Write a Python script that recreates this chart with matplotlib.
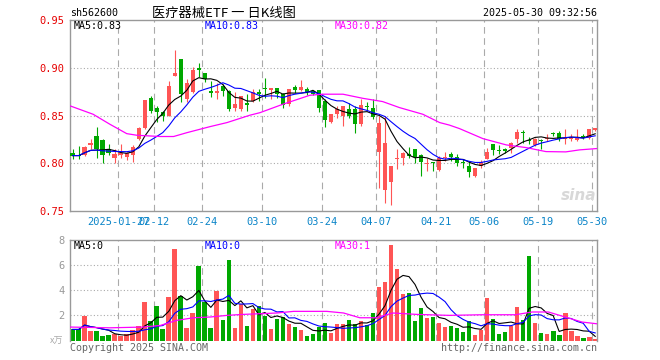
import matplotlib
matplotlib.use('Agg')
import matplotlib.pyplot as plt
import numpy as np
import pandas as pd

# 日K数据
opens = [0.811, 0.809, 0.809, 0.819, 0.829, 0.824, 0.815, 0.805, 0.809, 0.807,
         0.809, 0.825, 0.837, 0.868, 0.858, 0.854, 0.850, 0.891, 0.909, 0.867,
         0.875, 0.8995, 0.894, 0.876, 0.874, 0.881, 0.876, 0.858, 0.857, 0.8635,
         0.865, 0.875, 0.8792, 0.8768, 0.8792, 0.8723, 0.8618, 0.8803, 0.8768, 0.8775,
         0.8757, 0.8764, 0.8653, 0.8433, 0.8520, 0.8496, 0.8565, 0.8565, 0.8408, 0.8600,
         0.8579, 0.8119, 0.7721, 0.7804, 0.8045, 0.8056, 0.8101, 0.8154, 0.8087, 0.7993,
         0.8017, 0.7930, 0.8059, 0.8094, 0.8070, 0.8014, 0.7972, 0.7868, 0.7972, 0.8042,
         0.8199, 0.8140, 0.8154, 0.8157, 0.8251, 0.8332, 0.8244, 0.8192, 0.8244, 0.8258,
         0.8314, 0.8314, 0.8251, 0.8258, 0.8244, 0.8286, 0.8269, 0.8349]
highs = [0.815, 0.818, 0.818, 0.825, 0.838, 0.825, 0.820, 0.815, 0.820, 0.812,
         0.819, 0.838, 0.866, 0.870, 0.860, 0.855, 0.886, 0.919, 0.909, 0.888,
         0.901, 0.905, 0.895, 0.886, 0.884, 0.883, 0.877, 0.875, 0.870, 0.873,
         0.878, 0.8775, 0.8890, 0.8792, 0.8792, 0.8740, 0.8782, 0.8817, 0.8869, 0.8803,
         0.8770, 0.8764, 0.8670, 0.8520, 0.8600, 0.8600, 0.8635, 0.8600, 0.8677, 0.8642,
         0.8670, 0.8490, 0.8496, 0.7972, 0.8154, 0.8119, 0.8175, 0.8154, 0.8094, 0.8059,
         0.8017, 0.8077, 0.8115, 0.8122, 0.8094, 0.8042, 0.8024, 0.7955, 0.8031, 0.8164,
         0.8199, 0.8192, 0.8164, 0.8223, 0.8356, 0.8349, 0.8279, 0.8269, 0.8258, 0.8311,
         0.8332, 0.8339, 0.8356, 0.8304, 0.8356, 0.8311, 0.8363, 0.8373]
lows = [0.804, 0.804, 0.808, 0.815, 0.806, 0.800, 0.809, 0.800, 0.805, 0.803,
        0.801, 0.824, 0.836, 0.853, 0.843, 0.844, 0.849, 0.891, 0.864, 0.864,
        0.874, 0.890, 0.885, 0.869, 0.867, 0.870, 0.855, 0.855, 0.855, 0.855,
        0.864, 0.865, 0.8688, 0.8677, 0.8688, 0.8583, 0.8600, 0.8740, 0.8754, 0.8712,
        0.8710, 0.8538, 0.8380, 0.8420, 0.8478, 0.8391, 0.8478, 0.8314, 0.8391, 0.8548,
        0.8461, 0.7745, 0.7581, 0.7564, 0.7937, 0.7979, 0.8052, 0.8000, 0.7867, 0.7920,
        0.7920, 0.7920, 0.8024, 0.8024, 0.7972, 0.7955, 0.7861, 0.7861, 0.7955, 0.8042,
        0.8087, 0.8094, 0.8105, 0.8112, 0.8216, 0.8209, 0.8206, 0.8181, 0.8147, 0.8234,
        0.8286, 0.8234, 0.8199, 0.8234, 0.8234, 0.8251, 0.8251, 0.8339]
closes = [0.808, 0.808, 0.817, 0.821, 0.815, 0.809, 0.811, 0.810, 0.811, 0.811,
          0.817, 0.837, 0.866, 0.855, 0.854, 0.849, 0.881, 0.895, 0.873, 0.884,
          0.898, 0.898, 0.888, 0.874, 0.876, 0.876, 0.857, 0.862, 0.870, 0.861,
          0.875, 0.8725, 0.8775, 0.8792, 0.8723, 0.8607, 0.8782, 0.8768, 0.8796, 0.8750,
          0.8723, 0.8583, 0.8450, 0.8513, 0.8565, 0.8600, 0.8496, 0.8408, 0.8607, 0.8590,
          0.8485, 0.8419, 0.8209, 0.7972, 0.8052, 0.8112, 0.8077, 0.8070, 0.8014, 0.8007,
          0.8000, 0.8056, 0.8070, 0.8070, 0.8007, 0.8000, 0.7913, 0.7948, 0.8014, 0.8122,
          0.8140, 0.8129, 0.8129, 0.8209, 0.8332, 0.8321, 0.8234, 0.8258, 0.8237, 0.8269,
          0.8304, 0.8258, 0.8262, 0.8269, 0.8269, 0.8269, 0.8363, 0.8373]
# 成交量 (万)
volumes = [0.88, 0.88, 1.92, 0.72, 0.72, 0.32, 0.40, 0.53, 0.32, 0.53,
           0.80, 1.12, 3.04, 1.55, 2.72, 0.88, 3.44, 7.28, 3.52, 0.99,
           2.19, 5.95, 3.07, 0.99, 3.92, 1.60, 6.40, 0.99, 2.88, 1.12,
           2.48, 2.75, 1.92, 0.88, 1.73, 1.87, 1.33, 1.07, 0.85, 0.32,
           0.48, 1.07, 1.39, 0.59, 1.28, 1.28, 1.65, 1.28, 1.52, 1.25,
           2.16, 4.27, 4.67, 7.60, 5.68, 3.68, 3.79, 1.55, 2.56, 1.76,
           1.87, 1.39, 1.07, 1.15, 0.99, 0.67, 1.55, 0.40, 0.85, 3.36,
           1.68, 0.48, 0.67, 1.15, 2.67, 1.60, 6.72, 1.39, 0.59, 0.48,
           0.75, 0.40, 2.16, 0.75, 0.32, 0.19, 0.27, 0.11]
# MA30 (窗口外数据未知, 按图读点)
ma30_idx = [-0.4, 3.4, 6.2, 9, 10.7, 14.6, 16.8, 19, 22.9, 25.7, 29.5, 31.2, 35, 39.5, 41.7,
            45, 48.3, 51.6, 54.4, 58.3, 61.1, 62.7, 64.4, 68.3, 72.2, 75.5, 78.8, 82.1, 84.4, 87.3]
ma30_val = [0.860, 0.8513, 0.8408, 0.831, 0.8293, 0.828, 0.828, 0.832, 0.8384, 0.8426, 0.8503, 0.853,
            0.8618, 0.8712, 0.8723, 0.8723, 0.868, 0.8646, 0.8583, 0.8513, 0.8426, 0.840, 0.8363,
            0.8258, 0.8192, 0.8164, 0.8122, 0.8119, 0.8140, 0.8154]
vma30_idx = [-0.4, 6.2, 11.8, 14.6, 17.3, 20.1, 22.9, 25.7, 28.4, 31.2, 34, 36.8, 42.3, 45.1,
             47.8, 50.5, 53.3, 57.2, 62.7, 68.2, 73.7, 76.5, 79.2, 82, 84.8, 87.3]
vma30_val = [1.07, 1.01, 1.07, 1.2, 1.6, 1.81, 1.87, 2.0, 2.08, 2.13, 2.19, 2.32, 2.32, 2.19,
             1.81, 1.81, 2.19, 2.08, 2.0, 2.05, 2.05, 2.27, 2.27, 1.87, 1.47, 1.33]

date_idx = [8, 14, 22, 32, 42, 51, 61, 69, 78, 87]
date_labels = ['2025-01-27', '02-12', '02-24', '03-10', '03-24', '04-07',
               '04-21', '05-06', '05-19', '05-30']
price_ticks = [0.75, 0.80, 0.85, 0.90, 0.95]
vol_ticks = [2, 4, 6, 8]

RED = '#ff5555'
GREEN = '#00a800'
GRID = '#aaaaaa'
W, H = 660, 360
MONO = ['DejaVu Sans Mono', 'Noto Sans CJK SC']


def fx(x):
    return x / W


def fy(y):
    return 1 - y / H


o = np.array(opens)
c = np.array(closes)
x = np.arange(len(c))
cols = np.where(c >= o, RED, GREEN)
ma5 = pd.Series(c).rolling(5, min_periods=1).mean()
ma10 = pd.Series(c).rolling(10, min_periods=1).mean()
vol = pd.Series(volumes)
vma5 = vol.rolling(5, min_periods=1).mean()
vma10 = vol.rolling(10, min_periods=1).mean()

fig = plt.figure(figsize=(6.6, 3.6), dpi=100)
ax1 = fig.add_axes([fx(70), fy(211), (597 - 70) / W, (211 - 20) / H])
ax2 = fig.add_axes([fx(70), fy(340.5), (597 - 70) / W, (340.5 - 240) / H])
grid_x = np.array(date_idx) - 0.45

for ax in (ax1, ax2):
    for s in ax.spines.values():
        s.set_color('#999999')
        s.set_linewidth(1.0)
    ax.set_xlim(-0.45, 87.3)
    for g in grid_x:
        ax.axvline(g, color=GRID, lw=0.8, ls=(0, (6, 4)), zorder=0)

# K线
ax1.vlines(x, lows, highs, colors=cols, lw=0.8, zorder=2)
ax1.bar(x, np.maximum(np.abs(c - o), 0.0006), bottom=np.minimum(o, c),
        width=0.75, color=cols, lw=0, zorder=3)
ax1.plot(x, ma5, color='black', lw=0.8, zorder=4)
ax1.plot(x, ma10, color='blue', lw=0.8, zorder=4)
ax1.plot(ma30_idx, ma30_val, color='#ff00ff', lw=0.9, zorder=4)
ax1.set_ylim(0.75, 0.95)
for v in [0.80, 0.85, 0.90]:
    ax1.axhline(v, color=GRID, lw=0.8, ls=(0, (1, 2)), zorder=0)
ax1.set_yticks(price_ticks, [f'{v:.2f}' for v in price_ticks])
ax1.set_xticks(grid_x, date_labels)
ax1.tick_params(axis='y', length=0, pad=4, labelcolor='#e60000', labelsize=7.5)
ax1.tick_params(axis='x', length=0, pad=4.5, labelcolor='#0a84c8', labelsize=7.5)
for t in ax1.get_xticklabels() + ax1.get_yticklabels():
    t.set_family(MONO)

# 成交量
ax2.bar(x, volumes, width=0.78, color=cols, lw=0, zorder=2)
ax2.plot(x, vma5, color='black', lw=0.8, zorder=4)
ax2.plot(x, vma10, color='blue', lw=0.8, zorder=4)
ax2.plot(vma30_idx, vma30_val, color='#ff00ff', lw=0.9, zorder=4)
ax2.set_ylim(0, 8)
for v in [2, 4, 6]:
    ax2.axhline(v, color=GRID, lw=0.8, ls=(0, (1, 2)), zorder=0)
ax2.set_yticks(vol_ticks, [str(v) for v in vol_ticks])
ax2.set_xticks([])
ax2.spines['bottom'].set_visible(False)
ax2.tick_params(axis='y', length=0, pad=4, labelcolor='#999999', labelsize=7.5)
for t in ax2.get_yticklabels():
    t.set_family(MONO)

# 文字
fs = 7.2
fig.text(fx(70), fy(13), 'sh562600', family=MONO, fontsize=fs, va='center')
fig.text(fx(224), fy(13), '医疗器械ETF 一 日K线图', family=['Noto Sans CJK SC', 'DejaVu Sans'],
         fontsize=9.5, va='center', ha='center')
fig.text(fx(597), fy(13), '2025-05-30 09:32:56', family=MONO, fontsize=fs, va='center', ha='right')
for (xx, yy, s, col) in [(74, 26, 'MA5:0.83', 'black'), (204.5, 26, 'MA10:0.83', 'blue'),
                         (334.5, 26, 'MA30:0.82', '#ff00ff'), (74, 246, 'MA5:0', 'black'),
                         (204.5, 246, 'MA10:0', 'blue'), (334.5, 246, 'MA30:1', '#ff00ff')]:
    fig.text(fx(xx), fy(yy), s, family=MONO, fontsize=fs, va='center', color=col)
fig.text(fx(63), fy(341), 'x万', family=['Noto Sans CJK SC'], fontsize=6.5,
         color='#aaaaaa', ha='right', va='center')
fig.text(fx(70), fy(348), 'Copyright 2025 SINA.COM', family=MONO, fontsize=fs,
         color='#666666', va='center')
fig.text(fx(597), fy(348), 'http://finance.sina.com.cn', family=MONO, fontsize=fs,
         color='#666666', va='center', ha='right')
fig.text(fx(596), fy(196), 'sina', family='DejaVu Sans', fontsize=11, fontweight='bold',
         style='italic', color='#d8d8d8', va='center', ha='right', zorder=0)

fig.savefig('out.png', dpi=100)
